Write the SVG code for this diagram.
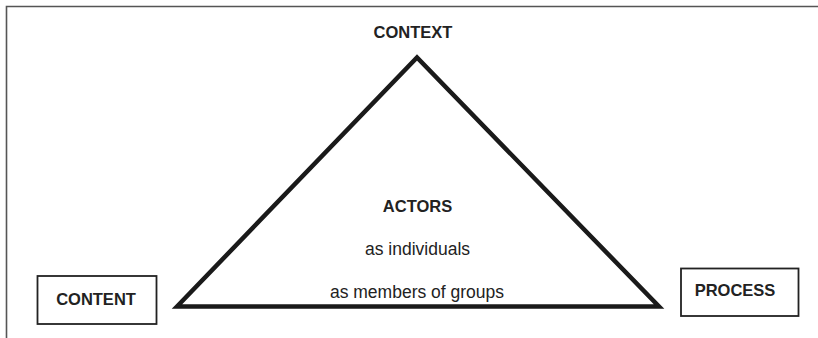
<svg xmlns="http://www.w3.org/2000/svg" width="818" height="338" viewBox="0 0 818 338">
<style>
.b{font-family:"Liberation Sans",Arial,sans-serif;font-weight:bold;font-size:16.5px;fill:#222;text-anchor:middle}
.r{font-family:"Liberation Sans",Arial,sans-serif;font-size:17.5px;fill:#222;text-anchor:middle}
.box{fill:#fff;stroke:#222;stroke-width:1.8}
</style>
<rect width="818" height="338" fill="#fff"/>
<g id="frame">
<path d="M6.5 338 V6.5 H818" fill="none" stroke="#555" stroke-width="1.6"/>
</g>
<g id="connectors">
<polygon points="177,306.5 417,57.5 659,306.5" fill="none" stroke="#1a1a1a" stroke-width="4.5" stroke-linejoin="miter" stroke-miterlimit="10"/>
</g>
<g id="context">
<text class="b" x="413" y="38">CONTEXT</text>
</g>
<g id="actors">
<text class="b" x="417.5" y="212">ACTORS</text>
<text class="r" x="417.5" y="255">as individuals</text>
<text class="r" x="417" y="298">as members of groups</text>
</g>
<g id="content">
<rect class="box" x="37.5" y="276" width="119" height="48"/>
<text class="b" x="96" y="305">CONTENT</text>
</g>
<g id="process">
<rect class="box" x="681" y="268.5" width="117.5" height="47.5"/>
<text class="b" x="735" y="296">PROCESS</text>
</g>
</svg>
